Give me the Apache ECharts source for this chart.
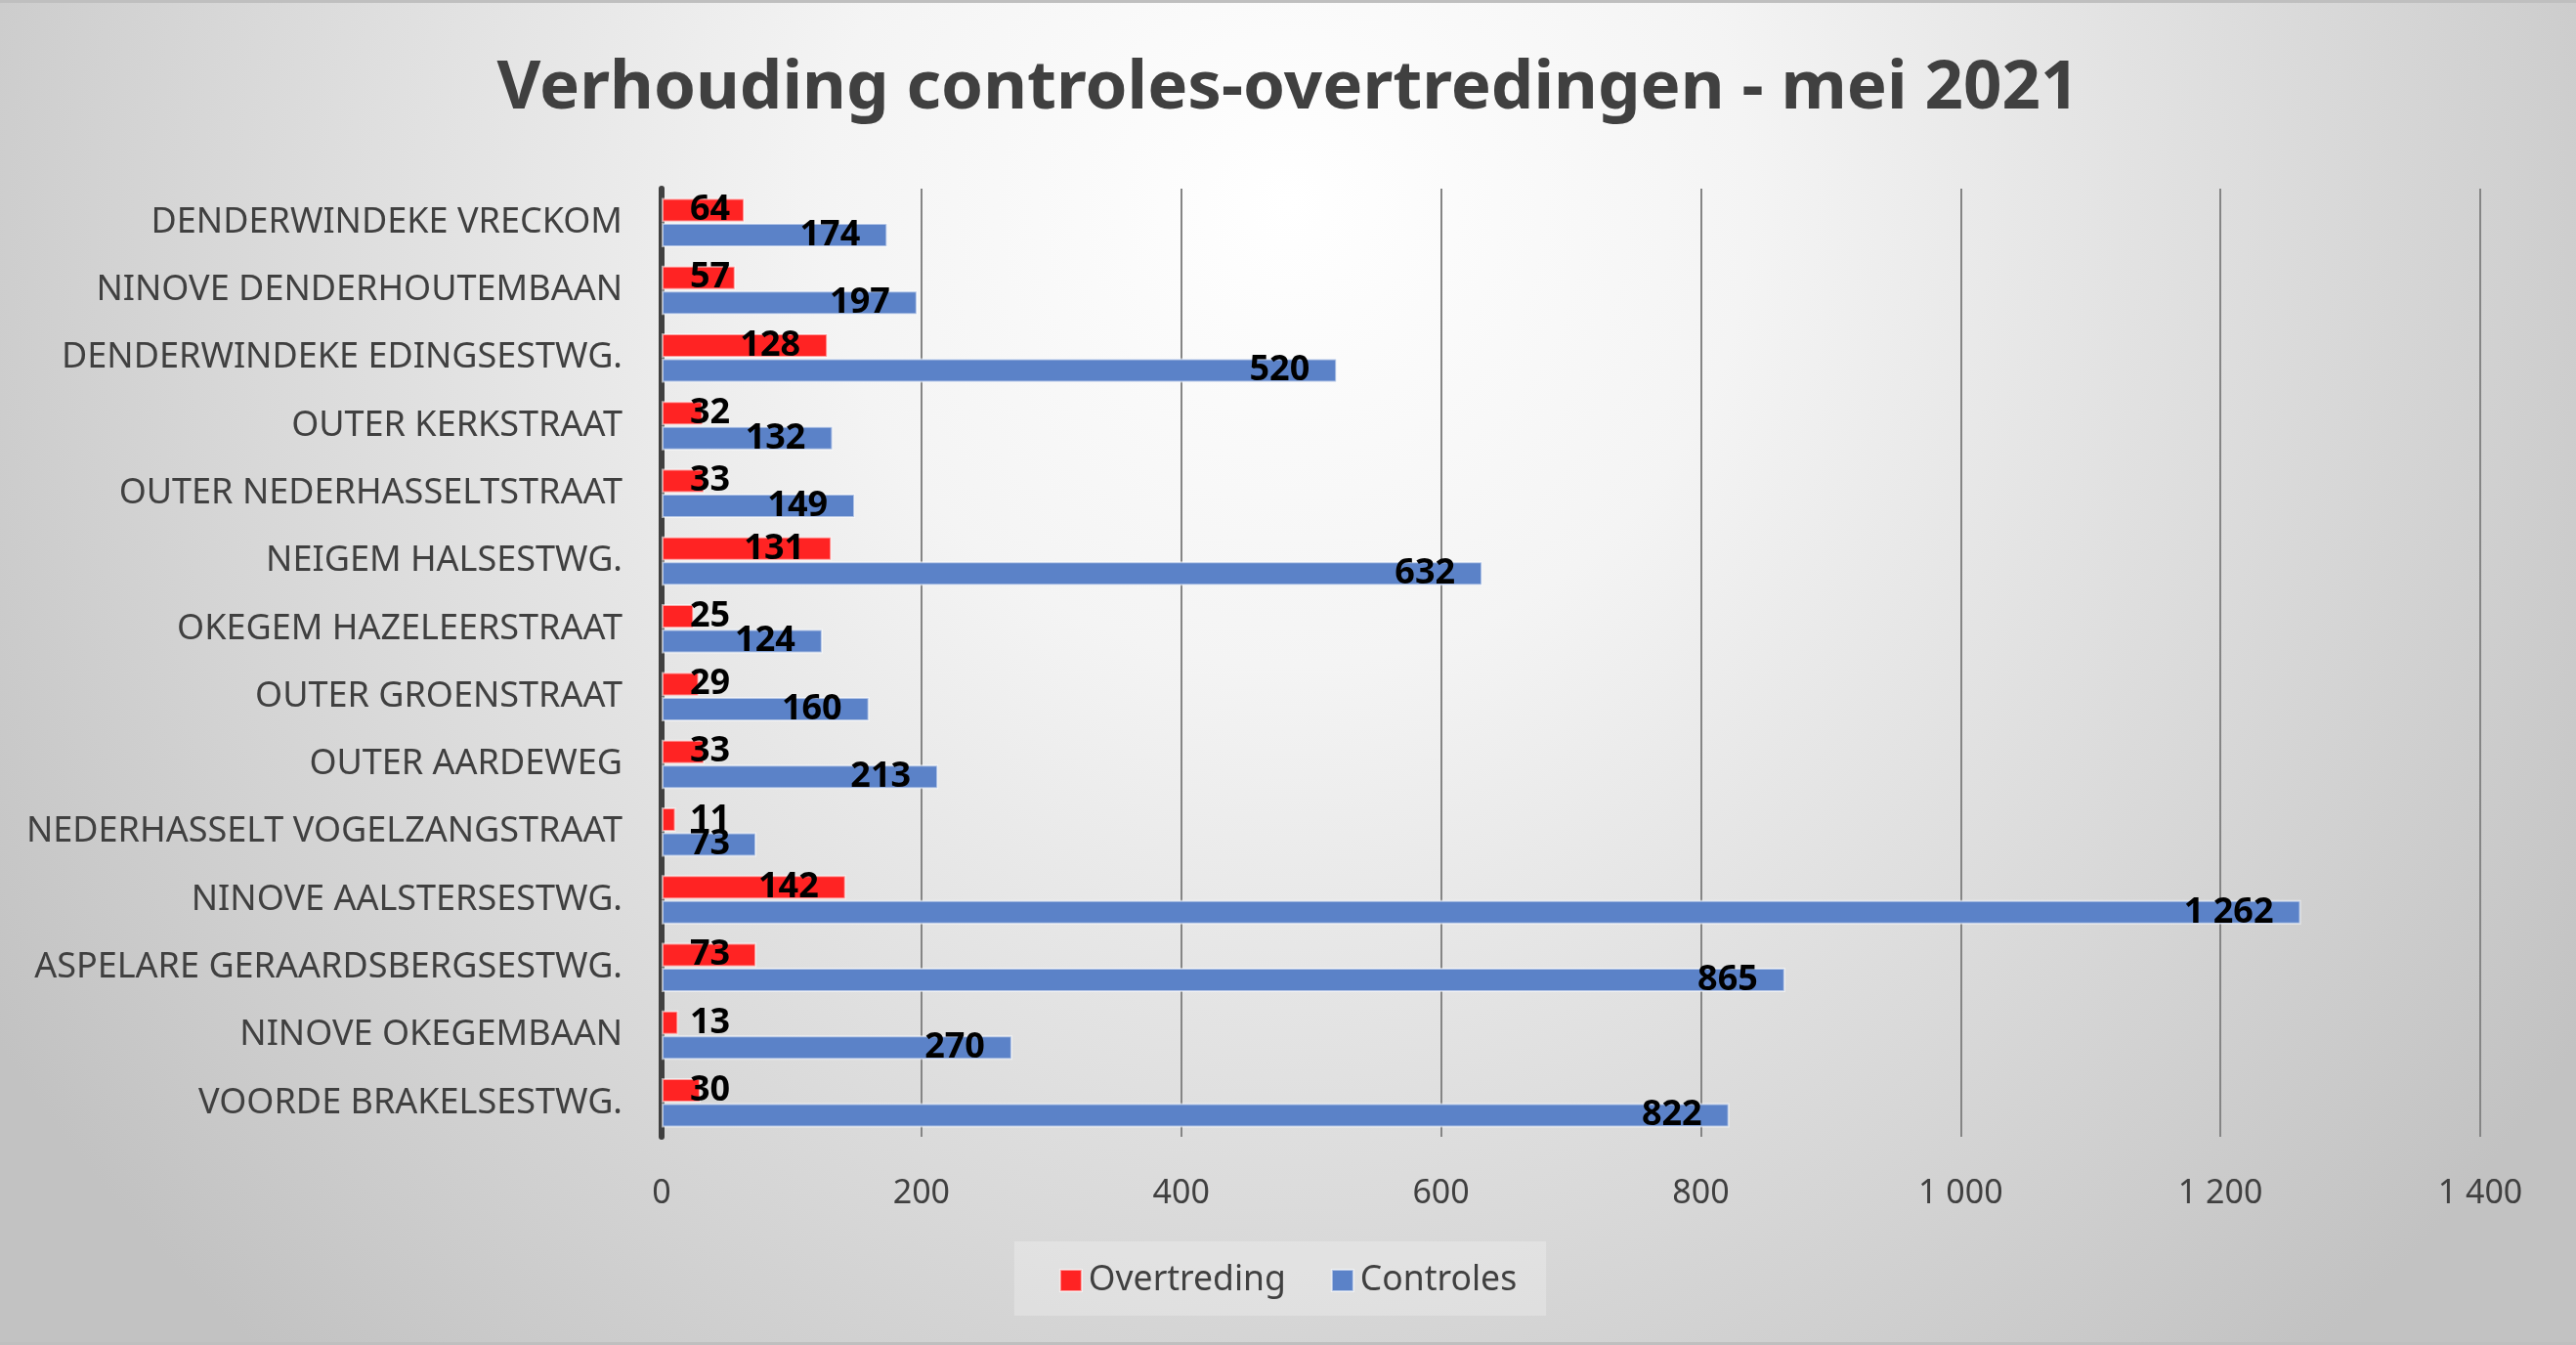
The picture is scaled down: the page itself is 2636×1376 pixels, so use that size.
<!DOCTYPE html>
<html>
<head>
<meta charset="utf-8">
<script src="https://cdn.jsdelivr.net/npm/echarts@6/dist/echarts.min.js"></script>
<style>
  html, body { margin: 0; padding: 0; background: #bfbfbf; }
  #chart { position: absolute; left: 0; top: 3px; width: 2636px; height: 1370px; }
</style>
</head>
<body>
<div id="chart"></div>
<script>
const titleText = 'Verhouding controles-overtredingen - mei 2021';
const categories = [
  'DENDERWINDEKE VRECKOM',
  'NINOVE DENDERHOUTEMBAAN',
  'DENDERWINDEKE EDINGSESTWG.',
  'OUTER KERKSTRAAT',
  'OUTER NEDERHASSELTSTRAAT',
  'NEIGEM HALSESTWG.',
  'OKEGEM HAZELEERSTRAAT',
  'OUTER GROENSTRAAT',
  'OUTER AARDEWEG',
  'NEDERHASSELT VOGELZANGSTRAAT',
  'NINOVE AALSTERSESTWG.',
  'ASPELARE GERAARDSBERGSESTWG.',
  'NINOVE OKEGEMBAAN',
  'VOORDE BRAKELSESTWG.'
];
const overtreding = [64, 57, 128, 32, 33, 131, 25, 29, 33, 11, 142, 73, 13, 30];
const controles = [174, 197, 520, 132, 149, 632, 124, 160, 213, 73, 1262, 865, 270, 822];
const seriesNames = ['Overtreding', 'Controles'];
const xMin = 0, xMax = 1400, xInterval = 200;

const fmt = v => String(v).replace(/\B(?=(\d{3})+(?!\d))/g, ' ');

const gridLeft = 677, gridRight = 98, gridTop = 190, gridBottom = 210;
const plotWidth = 2636 - gridLeft - gridRight;
const labelFont = 36;

function buildData(values) {
  return values.map(v => {
    const len = (v - xMin) / (xMax - xMin) * plotWidth;
    const txt = fmt(v);
    const tw = txt.replace(/ /g, '').length * 0.58 * labelFont + (txt.includes(' ') ? 0.26 * labelFont : 0);
    if (len - 28 - tw < 29) {
      return { value: v, label: { position: 'insideLeft', distance: 29 } };
    }
    return { value: v, label: { position: 'insideRight', distance: 28 } };
  });
}

const chart = echarts.init(document.getElementById('chart'), null, { renderer: 'canvas' });
const labelStyle = {
  show: true,
  color: '#000000',
  fontFamily: 'Noto Sans',
  fontWeight: 'bold',
  fontSize: labelFont,
  padding: [8, 0, 0, 0],
  formatter: p => fmt(p.value)
};
chart.setOption({
  backgroundColor: {
    type: 'radial', x: 0.5, y: 0.15, r: 1.15,
    colorStops: [
      { offset: 0, color: '#ffffff' },
      { offset: 0.3, color: '#f4f4f4' },
      { offset: 1, color: '#c2c2c2' }
    ]
  },
  animation: false,
  title: {
    text: titleText,
    left: 'center',
    top: 49,
    textStyle: { fontFamily: 'Noto Sans', fontWeight: 'bold', fontSize: 69, color: '#404040' }
  },
  legend: {
    data: seriesNames,
    left: 'center',
    top: 1267,
    padding: [22, 30, 18, 46],
    backgroundColor: 'rgba(255,255,255,0.25)',
    itemWidth: 22,
    itemHeight: 22,
    itemGap: 46,
    icon: 'rect',
    textStyle: { fontFamily: 'Noto Sans', fontSize: 35.5, color: '#404040', padding: [4, 0, 0, 2] }
  },
  grid: { left: gridLeft, right: gridRight, top: gridTop, bottom: gridBottom, containLabel: false },
  xAxis: {
    type: 'value',
    min: xMin, max: xMax, interval: xInterval,
    axisLine: { show: false },
    axisTick: { show: false },
    splitLine: { show: true, lineStyle: { color: '#858585', width: 2 } },
    axisLabel: {
      margin: 41,
      fontFamily: 'Noto Sans', fontSize: 34, color: '#404040',
      formatter: v => fmt(v)
    }
  },
  yAxis: {
    type: 'category',
    data: categories,
    inverse: true,
    axisLine: { show: true, lineStyle: { color: '#404040', width: 6 } },
    axisTick: { show: false },
    axisLabel: { margin: 40, fontFamily: 'Noto Sans', fontSize: 36, color: '#404040', padding: [14, 0, 0, 0] }
  },
  series: [
    {
      name: seriesNames[0],
      type: 'bar',
      data: buildData(overtreding),
      barWidth: 25,
      barGap: '2%',
      itemStyle: { color: '#ff2323', borderColor: 'rgba(255,255,255,0.55)', borderWidth: 2 },
      label: labelStyle,
      z: 3
    },
    {
      name: seriesNames[1],
      type: 'bar',
      data: buildData(controles),
      barWidth: 25,
      barGap: '2%',
      itemStyle: { color: '#5b82c8', borderColor: 'rgba(255,255,255,0.55)', borderWidth: 2 },
      label: labelStyle,
      z: 3
    }
  ]
});
</script>
</body>
</html>
